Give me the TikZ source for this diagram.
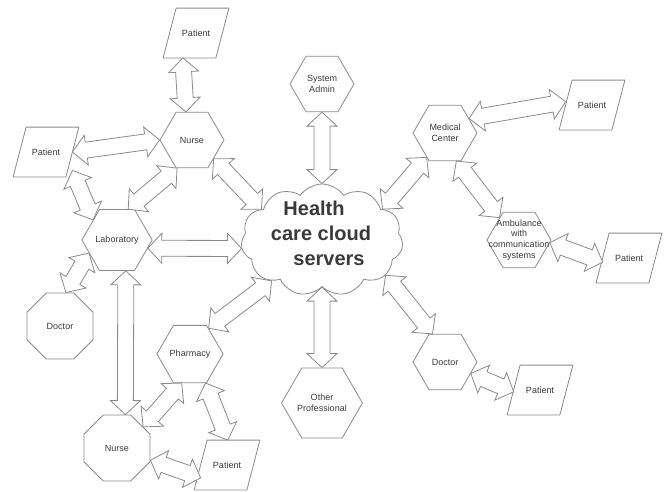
\documentclass[tikz,border=0pt]{standalone}
\usepackage{fontspec}
\setmainfont{Liberation Sans}
\usepackage{tikz}
\usetikzlibrary{shapes.geometric,shapes.symbols}
\usetikzlibrary{calc}

\definecolor{edge}{HTML}{8A8A8A}
\definecolor{ink}{HTML}{3A3A3A}

\tikzset{
	box/.style={draw=edge, fill=white, line width=0.8pt, inner sep=0pt, text=ink, font=\fontsize{9}{10.6}\selectfont, align=center},
	hexa/.style={box, regular polygon, regular polygon sides=6, minimum size=64pt},
	octa/.style={box, regular polygon, regular polygon sides=8, minimum size=71.5pt},
	% slanted box, outline drawn round the node
	para/.style={box, draw=none, fill=none, minimum width=52pt, minimum height=49pt,
		append after command={\pgfextra{\draw[draw=edge, line width=0.8pt, line join=round]
			([xshift=-6.5pt]\tikzlastnode.south west) -- ([xshift=6.5pt]\tikzlastnode.north west)
			-- ([xshift=6.5pt]\tikzlastnode.north east) -- ([xshift=-6.5pt]\tikzlastnode.south east) -- cycle;}}},
	link/.style={draw=edge, fill=white, line width=0.8pt, line join=miter},
}

% hollow arrow with a head at both ends
\newcommand\twoway[2]{%
	\path (#1) coordinate (a1) (#2) coordinate (a2);
	\draw[link] (a1) -- ($(a1)!14pt!(a2)!15pt!90:(a2)$) -- ($(a1)!14pt!(a2)!8pt!90:(a2)$)
		-- ($(a2)!14pt!(a1)!8pt!-90:(a1)$) -- ($(a2)!14pt!(a1)!15pt!-90:(a1)$) -- (a2)
		-- ($(a2)!14pt!(a1)!15pt!90:(a1)$) -- ($(a2)!14pt!(a1)!8pt!90:(a1)$)
		-- ($(a1)!14pt!(a2)!8pt!-90:(a2)$) -- ($(a1)!14pt!(a2)!15pt!-90:(a2)$) -- cycle;}

\begin{document}
\begin{tikzpicture}[x=1pt,y=-1pt]
	\useasboundingbox (0,0) rectangle (666,491);
	
	\node[cloud, cloud puffs=11, cloud puff arc=110, aspect=1.45, draw=edge, fill=white, line width=0.8pt, inner sep=0pt, minimum width=162pt, minimum height=112pt] (cloud) at (322,240) {};
	\node[text=ink, font=\bfseries\fontsize{20}{25}\selectfont, align=center] (title) at (321,233) {Health\hspace*{14pt}\\care cloud\\\hspace*{16pt}servers};
	
	\node[para] (p1) at (196,33) {Patient};
	\node[hexa] (n1) at (192,140) {Nurse};
	\node[para] (p2) at (46,152) {Patient};
	\node[hexa] (lab) at (117,240) {Laboratory};
	\node[octa] (d1) at (60,326) {Doctor};
	\node[hexa] (ph) at (190,354) {Pharmacy};
	\node[octa] (n2) at (117,448) {Nurse};
	\node[para] (p3) at (227,465) {Patient};
	\node[hexa] (op) at (322,403) {Other\\Professional};
	\node[hexa] (sa) at (322,84) {System\\Admin};
	\node[hexa] (mc) at (445,133) {Medical\\Center};
	\node[para] (p4) at (592,105) {Patient};
	\node[hexa, label={[text=ink, font=\fontsize{9}{10.7}\selectfont, align=center]center:Ambulance\\with\\communication\\systems}] (amb) at (519,240) {};
	\node[para] (p5) at (629,258) {Patient};
	\node[hexa] (d2) at (445,362) {Doctor};
	\node[para] (p6) at (540,390) {Patient};
	
	\twoway{p1.-118}{n1.102}
	\twoway{p2.east}{n1.west}
	\twoway{p2.-35}{lab.140}
	\twoway{lab.70}{n1.242}
	\twoway{n1.-41}{cloud.153}
	\twoway{lab.-15}{cloud.186}
	\twoway{lab.205}{d1.80}
	\twoway{lab.-74}{n2.76}
	\twoway{n2.39}{ph.254}
	\twoway{ph.-62}{p3.88}
	\twoway{n2.-20}{p3.206}
	\twoway{ph.54}{cloud.219}
	\twoway{cloud.south}{op.north}
	\twoway{sa.south}{cloud.north}
	\twoway{cloud.27}{mc.233}
	\twoway{mc.31}{p4.173}
	\twoway{mc.-68}{amb.131}
	\twoway{amb.-5}{p5.189}
	\twoway{cloud.-29}{d2.114}
	\twoway{d2.-24}{p6.184}
\end{tikzpicture}
\end{document}
